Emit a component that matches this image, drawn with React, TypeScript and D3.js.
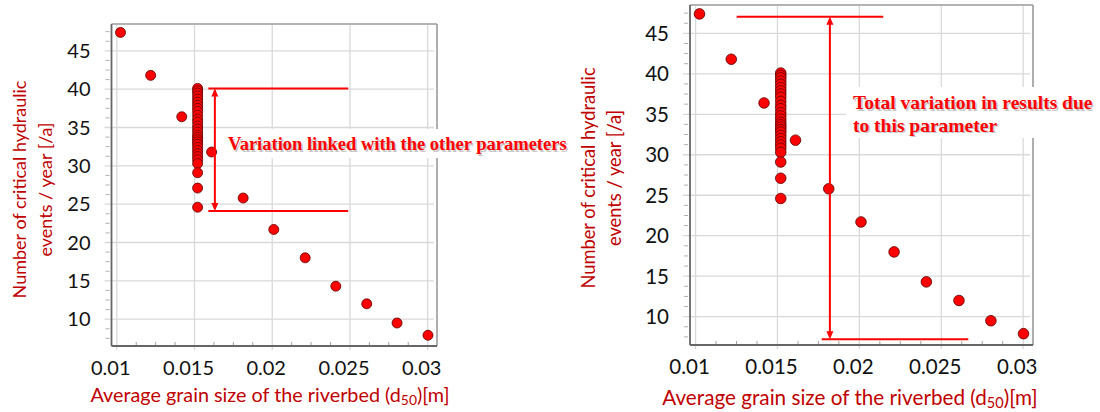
import React from "react";
import * as d3 from "d3";

// ---- data ----
const grainSizes: number[] = [
  0.01024, 0.01218, 0.01418,
  0.0152, 0.0152, 0.0152, 0.0152, 0.0152, 0.0152, 0.0152, 0.0152, 0.0152, 0.0152,
  0.0152, 0.0152, 0.0152, 0.0152, 0.0152, 0.0152, 0.0152, 0.0152, 0.0152, 0.0152,
  0.0152, 0.0152, 0.0152, 0.0152, 0.0152, 0.0152, 0.0152, 0.0152, 0.0152,
  0.0161, 0.01813, 0.0201, 0.02212, 0.02409, 0.02608, 0.02803, 0.03002,
];
const eventCounts: number[] = [
  47.4, 41.8, 36.4,
  40.1, 39.8, 39.5, 39.1, 38.7, 38.3, 37.9, 37.5, 37.1, 36.6,
  36.1, 35.7, 35.2, 34.8, 34.4, 34.0, 33.7, 33.4, 33.1, 32.8,
  32.4, 32.0, 31.6, 31.2, 30.8, 30.3, 29.1, 27.1, 24.6,
  31.8, 25.8, 21.7, 18.0, 14.3, 12.0, 9.5, 7.9,
];
const xTicks: number[] = [0.01, 0.015, 0.02, 0.025, 0.03];
const xTickLabels: string[] = ["0.01", "0.015", "0.02", "0.025", "0.03"];
const yTicks: number[] = [10, 15, 20, 25, 30, 35, 40, 45];
const xDomain: [number, number] = [0.00966, 0.0306];
const yDomain: [number, number] = [6.5, 48.5];

const yTitleLines = ["Number of critical hydraulic", "events / year [/a]"];
const xTitleMain = "Average grain size of the riverbed (d";
const xTitleSub = "50";
const xTitleEnd = ")[m]";

// annotation (data units)
const leftNote = {
  top: 40.1, bottom: 24.1, x0: 0.01589, x1: 0.02489, arrowX: 0.01631,
  lines: ["Variation linked with the other parameters"],
};
const rightNote = {
  top: 47.05, bottom: 7.2, topX0: 0.01251, topX1: 0.02146,
  botX0: 0.0177, botX1: 0.02665, arrowX: 0.0182,
  lines: ["Total variation in results due", "to this parameter"],
};

const RED = "#ff0000";
const TITLE_RED = "#c00000";
const UI_FONT = "Lato, 'Open Sans', sans-serif";
const NOTE_FONT = "'Liberation Serif', 'Times New Roman', serif";

type PanelProps = {
  x0: number; x1: number; y0: number; y1: number;
  tickFs: number; titleFs: number; yTitleFs: number; r: number;
  yTitleX: [number, number]; yTitleY: number;
  xTitleX: number; xTitleY: number;
  children: (x: d3.ScaleLinear<number, number>, y: d3.ScaleLinear<number, number>) => React.ReactNode;
};

function Panel(p: PanelProps) {
  const x = d3.scaleLinear().domain(xDomain).range([p.x0, p.x1]);
  const y = d3.scaleLinear().domain(yDomain).range([p.y1, p.y0]);
  const yMinor: number[] = [];
  for (let v = 7.5; v <= 48.5; v += 1.25) {
    if (Math.abs((v / 5) - Math.round(v / 5)) > 1e-6) yMinor.push(v);
  }
  const xMinor: number[] = [];
  for (let v = 0.01; v <= 0.0306; v += 0.00125) {
    const k = v / 0.005;
    if (Math.abs(k - Math.round(k)) > 1e-6) xMinor.push(v);
  }
  return (
    <g>
      {/* grid */}
      {yTicks.map((t) => (
        <line key={"gy" + t} x1={p.x0 - 7} x2={p.x1 - 3} y1={y(t)} y2={y(t)} stroke="#d9d9d9" strokeWidth={1.3} />
      ))}
      {xTicks.map((t) => (
        <line key={"gx" + t} x1={x(t)} x2={x(t)} y1={p.y0 + 1} y2={p.y1 + 4} stroke="#d9d9d9" strokeWidth={1.3} />
      ))}
      {/* minor ticks */}
      {yMinor.map((t) => (
        <line key={"my" + t} x1={p.x0 - 6} x2={p.x0 - 2} y1={y(t)} y2={y(t)} stroke="#b0b0b0" strokeWidth={1} />
      ))}
      {xMinor.map((t) => (
        <line key={"mx" + t} x1={x(t)} x2={x(t)} y1={p.y1 - 4} y2={p.y1} stroke="#a0a0a0" strokeWidth={1} />
      ))}
      {/* frame */}
      <line x1={p.x0} x2={p.x1} y1={p.y0} y2={p.y0} stroke="#9a9a9a" strokeWidth={1.6} />
      <line x1={p.x1} x2={p.x1} y1={p.y0} y2={p.y1} stroke="#9a9a9a" strokeWidth={1.6} />
      <line x1={p.x0} x2={p.x0} y1={p.y0} y2={p.y1} stroke="#666" strokeWidth={1.8} />
      <line x1={p.x0} x2={p.x1} y1={p.y1} y2={p.y1} stroke="#666" strokeWidth={1.8} />
      {/* tick labels */}
      {yTicks.map((t) => (
        <text key={"ly" + t} x={p.x0 - 21} y={y(t)} dy="0.36em" textAnchor="end"
          fontFamily={UI_FONT} fontSize={p.tickFs} fill="#111">{t}</text>
      ))}
      {xTicks.map((t, i) => (
        <text key={"lx" + t} x={x(t) - 6} y={p.y1 + 29} textAnchor="middle"
          fontFamily={UI_FONT} fontSize={p.tickFs} fill="#111">{xTickLabels[i]}</text>
      ))}
      {/* points */}
      {grainSizes.map((g, i) => (
        <circle key={"pt" + i} cx={x(g)} cy={y(eventCounts[i])} r={p.r}
          fill={RED} stroke="#5a0000" strokeWidth={0.8} />
      ))}
      {/* axis titles */}
      {yTitleLines.map((s, i) => (
        <text key={"yt" + i} transform={`translate(${p.yTitleX[i]},${p.yTitleY}) rotate(-90)`}
          textAnchor="middle" dy="0.35em" fontFamily={UI_FONT} fontSize={p.yTitleFs} fill={TITLE_RED}>{s}</text>
      ))}
      <text x={p.xTitleX} y={p.xTitleY} textAnchor="middle" fontFamily={UI_FONT} fontSize={p.titleFs} fill={TITLE_RED}>
        {xTitleMain}
        <tspan fontSize={p.titleFs * 0.7} dy={3}>{xTitleSub}</tspan>
        <tspan dy={-3}>{xTitleEnd}</tspan>
      </text>
      {p.children(x, y)}
    </g>
  );
}

function Arrow({ x, yTop, yBot }: { x: number; yTop: number; yBot: number }) {
  const w = 3.5, h = 8;
  return (
    <g>
      <line x1={x} x2={x} y1={yTop + 2} y2={yBot - 2} stroke={RED} strokeWidth={2} />
      <path d={`M${x},${yTop} L${x - w},${yTop + h} L${x + w},${yTop + h} Z`} fill={RED} />
      <path d={`M${x},${yBot} L${x - w},${yBot - h} L${x + w},${yBot - h} Z`} fill={RED} />
    </g>
  );
}

function NoteText({ x, ys, lines, fs }: { x: number; ys: number[]; lines: string[]; fs: number }) {
  return (
    <g fontFamily={NOTE_FONT} fontWeight="bold" fontSize={fs}>
      {lines.map((s, i) => (
        <text key={"s" + i} x={x + 1.5} y={ys[i] + 1.5} fill="#000" opacity={0.22}>{s}</text>
      ))}
      {lines.map((s, i) => (
        <text key={"t" + i} x={x} y={ys[i]} fill={RED}>{s}</text>
      ))}
    </g>
  );
}

export default function App() {
  return (
    <svg width={1100} height={412} style={{ position: "absolute", left: 0, top: 0, background: "#fff" }}>
      <rect width={1100} height={412} fill="#fff" />
      <Panel x0={111.5} x1={437} y0={24} y1={346} tickFs={20} titleFs={19.8} yTitleFs={18} r={5}
        yTitleX={[19.5, 45.5]} yTitleY={189.5} xTitleX={270} xTitleY={402}>
        {(x, y) => (
          <g>
            <line x1={x(leftNote.x0)} x2={x(leftNote.x1)} y1={y(leftNote.top)} y2={y(leftNote.top)} stroke={RED} strokeWidth={2} />
            <line x1={x(leftNote.x0)} x2={x(leftNote.x1)} y1={y(leftNote.bottom)} y2={y(leftNote.bottom)} stroke={RED} strokeWidth={2} />
            <Arrow x={x(leftNote.arrowX)} yTop={y(leftNote.top)} yBot={y(leftNote.bottom)} />
            <rect x={222} y={129} width={356} height={29} fill="#fff" />
            <NoteText x={228} ys={[150]} lines={leftNote.lines} fs={18.5} />
          </g>
        )}
      </Panel>
      <Panel x0={690} x1={1033} y0={5} y1={345} tickFs={20.5} titleFs={20.7} yTitleFs={18.3} r={5.3}
        yTitleX={[589, 615]} yTitleY={178} xTitleX={850} xTitleY={405}>
        {(x, y) => (
          <g>
            <line x1={x(rightNote.topX0)} x2={x(rightNote.topX1)} y1={y(rightNote.top)} y2={y(rightNote.top)} stroke={RED} strokeWidth={2} />
            <line x1={x(rightNote.botX0)} x2={x(rightNote.botX1)} y1={y(rightNote.bottom)} y2={y(rightNote.bottom)} stroke={RED} strokeWidth={2} />
            <Arrow x={x(rightNote.arrowX)} yTop={y(rightNote.top)} yBot={y(rightNote.bottom)} />
            <rect x={846} y={87} width={254} height={51} fill="#fff" />
            <NoteText x={853} ys={[109, 131.5]} lines={rightNote.lines} fs={19.5} />
          </g>
        )}
      </Panel>
    </svg>
  );
}
